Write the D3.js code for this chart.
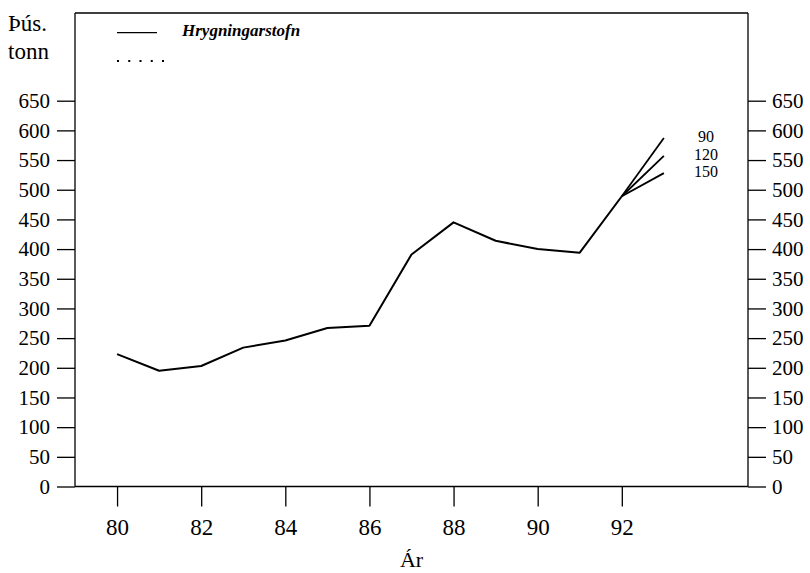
<!DOCTYPE html>
<html>
<head>
<meta charset="utf-8">
<script src="https://cdn.jsdelivr.net/npm/d3@7"></script>
<style>
  html, body { margin: 0; padding: 0; background: #fff; }
  svg { display: block; }
  svg text { font-family: "Liberation Serif", "DejaVu Serif", "Noto Serif", serif; fill: #000; }
</style>
</head>
<body>
<svg id="chart" width="810" height="573"></svg>
<script>
// ---- Data ----
const years = [80, 81, 82, 83, 84, 85, 86, 87, 88, 89, 90, 91, 92];
const spawningStock = [223, 195, 203, 234, 246, 267, 271, 391, 445, 414, 400, 394, 489];
const projYears = [92, 93];
const projLabels = ["90", "120", "150"];
const projStart = 489;
const projEnd = [587, 557, 528];
const yTicks = [0, 50, 100, 150, 200, 250, 300, 350, 400, 450, 500, 550, 600, 650];
const xTicks = [80, 82, 84, 86, 88, 90, 92];
const legendLabel = "Hrygningarstofn";
const yUnitLines = ["Þús.", "tonn"];
const xTitle = "Ár";

(function () {
const FONT = '"Liberation Serif", "DejaVu Serif", "Noto Serif", serif';
// ---- Layout ----
const svg = d3.select("#chart");
const pL = 75, pR = 748, pT = 13, pB = 486.5;
const x = d3.scaleLinear().domain([79, 95]).range([pL, pR]);
const y = d3.scaleLinear().domain([0, 650]).range([pB, 100.7]);

// frame
[[pL, pT, pR, pT], [pL, pT, pL, pB], [pR, pT, pR, pB], [pL, pB, pR, pB]].forEach(c => {
  svg.append("line")
    .attr("x1", c[0]).attr("y1", c[1]).attr("x2", c[2]).attr("y2", c[3])
    .attr("stroke", "#000").attr("stroke-width", 1.3);
});

// axes
function styleAxis(g, fs) {
  g.attr("font-family", FONT).attr("font-size", fs);
  g.select(".domain").remove();
  g.selectAll(".tick line").attr("stroke", "#000").attr("stroke-width", 1.3);
  g.selectAll(".tick text").attr("font-size", fs)
    .style("font-family", FONT).attr("fill", "#000");
}
svg.append("g").attr("transform", `translate(${pL},0)`)
  .call(d3.axisLeft(y).tickValues(yTicks).tickSize(18).tickPadding(7).tickFormat(d3.format("d")))
  .call(g => styleAxis(g, 21));
svg.append("g").attr("transform", `translate(${pR},0)`)
  .call(d3.axisRight(y).tickValues(yTicks).tickSize(18).tickPadding(6).tickFormat(d3.format("d")))
  .call(g => styleAxis(g, 21));
svg.append("g").attr("transform", `translate(0,${pB})`)
  .call(d3.axisBottom(x).tickValues(xTicks).tickSize(20).tickPadding(12).tickFormat(d3.format("d")))
  .call(g => styleAxis(g, 23));

// main line
const line = d3.line().x((d, i) => x(years[i])).y(d => y(d));
svg.append("path").datum(spawningStock)
  .attr("d", line).attr("fill", "none")
  .attr("stroke", "#000").attr("stroke-width", 2).attr("stroke-linejoin", "round");

// projections
projEnd.forEach((v, i) => {
  svg.append("line")
    .attr("x1", x(projYears[0])).attr("y1", y(projStart))
    .attr("x2", x(projYears[1])).attr("y2", y(v))
    .attr("stroke", "#000").attr("stroke-width", 1.8);
  svg.append("text")
    .attr("x", x(projYears[1] + 1)).attr("y", y(v)).attr("dy", "0.25em")
    .attr("text-anchor", "middle").attr("font-size", 16)
    .style("font-family", FONT)
    .text(projLabels[i]);
});

// y unit label
yUnitLines.forEach((t, i) => {
  svg.append("text").attr("x", 8).attr("y", 31 + i * 28)
    .attr("font-size", 23).style("font-family", FONT).text(t);
});

// x title
svg.append("text").attr("x", (pL + pR) / 2).attr("y", 567)
  .attr("text-anchor", "middle").attr("font-size", 22).style("font-family", FONT).text(xTitle);

// legend
svg.append("line").attr("x1", 117).attr("x2", 157).attr("y1", 32.7).attr("y2", 32.7)
  .attr("stroke", "#000").attr("stroke-width", 1.3);
svg.append("text").attr("x", 182).attr("y", 36)
  .attr("font-size", 17).attr("font-style", "italic").attr("font-weight", "bold")
  .style("font-family", FONT)
  .text(legendLabel);
svg.append("line").attr("x1", 117).attr("x2", 164).attr("y1", 61).attr("y2", 61)
  .attr("stroke", "#000").attr("stroke-width", 2.2)
  .attr("stroke-dasharray", "2 9.25");
})();
</script>
</body>
</html>
